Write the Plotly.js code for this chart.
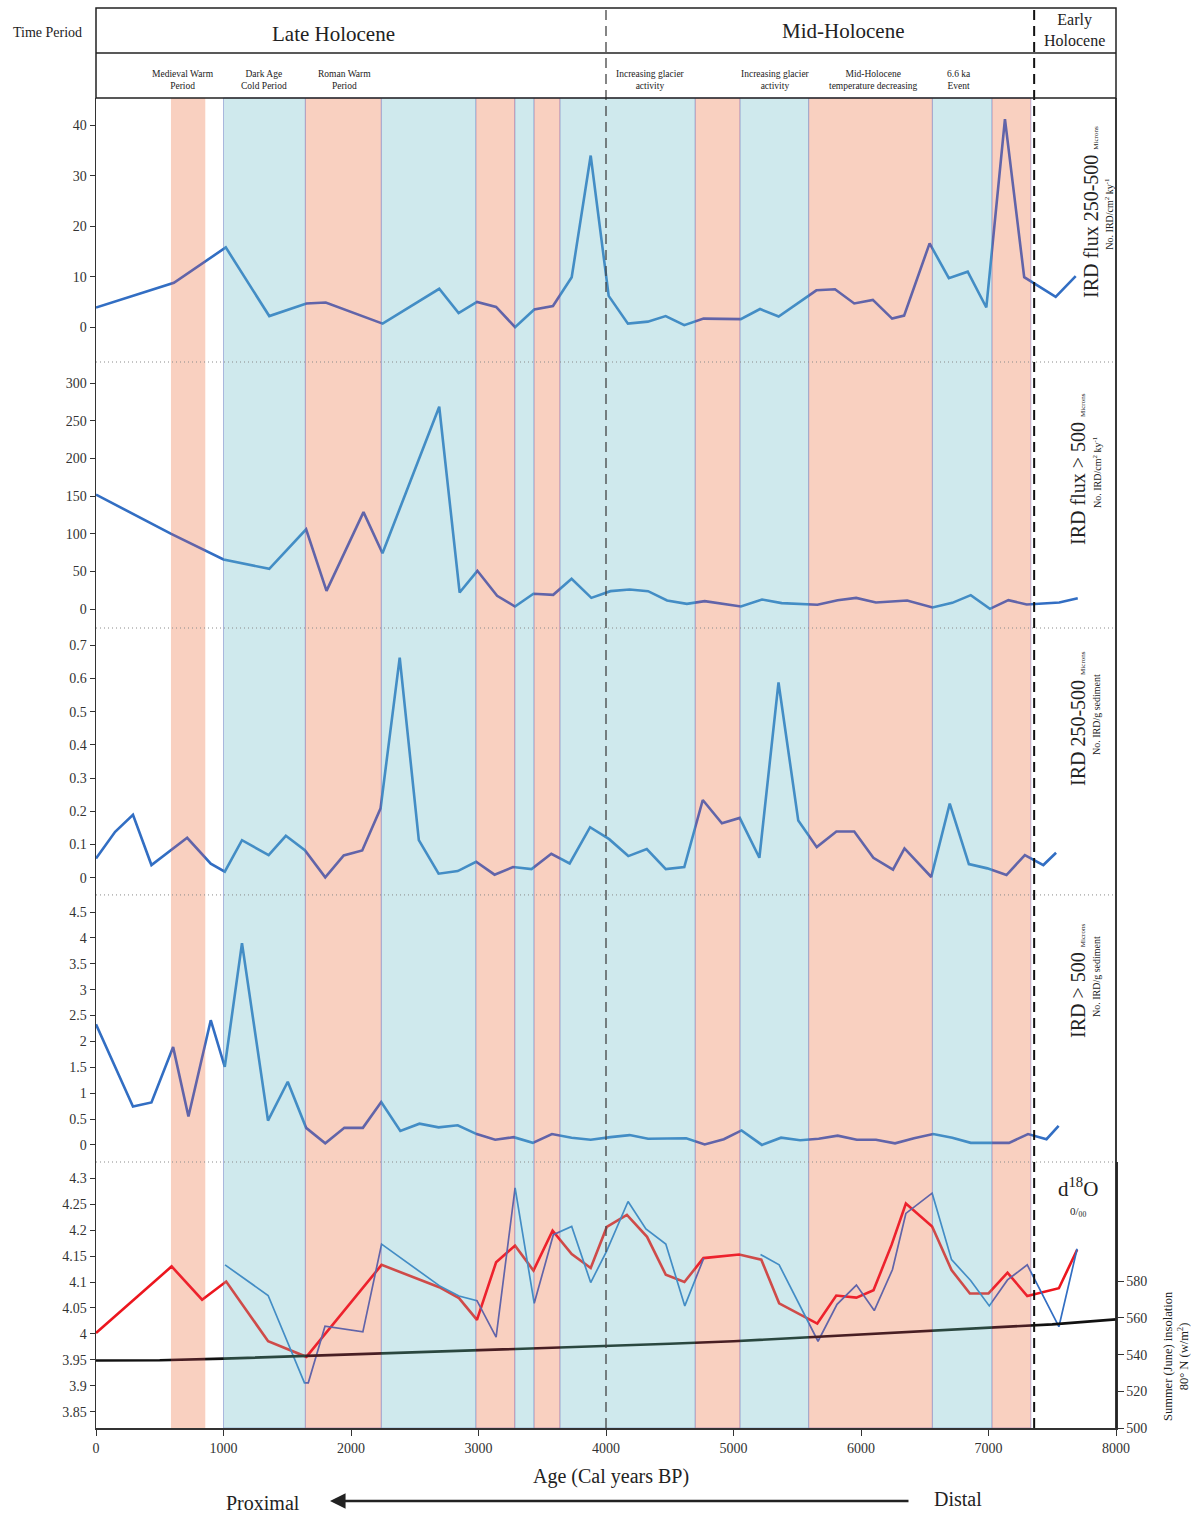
<!DOCTYPE html>
<html>
<head>
<meta charset="utf-8">
<script src="https://cdn.plot.ly/plotly-3.0.1.min.js"></script>
<style>
  html, body { margin: 0; padding: 0; background: #ffffff; }
  #chart { width: 1196px; height: 1515px; }
</style>
</head>
<body>
<div id="chart"></div>
<script>
// ---------------- data (age in cal years BP) ----------------

// IRD flux 250-500 microns (No. IRD/cm2 ky-1)
const ageFluxFine = [0, 611, 1018, 1359, 1650, 1802, 2248, 2692, 2844, 2988, 3138, 3287, 3437, 3584, 3731, 3880, 4021, 4172, 4328, 4468, 4614, 4765, 5057, 5208, 5354, 5650, 5796, 5947, 6093, 6244, 6338, 6538, 6689, 6837, 6983, 7129, 7280, 7527, 7684];
const fluxFine = [3.9, 8.8, 15.8, 2.2, 4.7, 4.9, 0.7, 7.6, 2.8, 5.0, 4.0, 0.0, 3.5, 4.2, 9.9, 34.0, 6.2, 0.7, 1.1, 2.2, 0.4, 1.7, 1.6, 3.6, 2.1, 7.3, 7.5, 4.7, 5.4, 1.7, 2.3, 16.6, 9.7, 11.0, 3.9, 41.2, 9.9, 6.0, 10.1];

// IRD flux > 500 microns (No. IRD/cm2 ky-1)
const ageFluxCoarse = [0, 590, 1000, 1359, 1648, 1808, 2098, 2247, 2692, 2852, 2991, 3146, 3286, 3431, 3586, 3730, 3885, 4035, 4185, 4330, 4479, 4634, 4774, 5058, 5223, 5378, 5658, 5817, 5962, 6117, 6362, 6561, 6716, 6861, 7011, 7156, 7300, 7555, 7700];
const fluxCoarse = [152, 100, 66, 53.5, 106, 24.3, 128.8, 74.3, 268.6, 22.1, 50.9, 17.7, 3.5, 20.4, 19.0, 40.3, 15.0, 23.9, 26.1, 23.9, 11.5, 7.1, 10.6, 3.5, 12.8, 8.0, 5.8, 11.9, 15.0, 8.8, 11.5, 2.2, 8.4, 18.6, 0.4, 11.9, 6.2, 8.8, 14.6];

// IRD 250-500 microns (No. IRD/g sediment)
const ageIrdFine = [0, 150, 290, 435, 715, 900, 1010, 1145, 1354, 1489, 1638, 1798, 1943, 2088, 2232, 2382, 2532, 2687, 2837, 2981, 3126, 3271, 3416, 3571, 3715, 3875, 4025, 4175, 4320, 4469, 4614, 4759, 4909, 5049, 5203, 5353, 5508, 5653, 5807, 5947, 6097, 6251, 6341, 6551, 6696, 6846, 6991, 7141, 7285, 7430, 7530];
const irdFine = [0.058, 0.138, 0.189, 0.038, 0.120, 0.042, 0.018, 0.113, 0.068, 0.126, 0.083, 0.001, 0.067, 0.082, 0.209, 0.663, 0.113, 0.012, 0.020, 0.048, 0.009, 0.032, 0.026, 0.072, 0.043, 0.152, 0.116, 0.065, 0.086, 0.026, 0.032, 0.234, 0.164, 0.180, 0.060, 0.588, 0.172, 0.092, 0.139, 0.139, 0.060, 0.024, 0.088, 0.002, 0.223, 0.041, 0.028, 0.008, 0.068, 0.038, 0.075];

// IRD > 500 microns (No. IRD/g sediment)
const ageIrdCoarse = [0, 290, 435, 605, 725, 900, 1010, 1145, 1349, 1504, 1648, 1798, 1948, 2093, 2237, 2387, 2537, 2687, 2837, 2986, 3131, 3276, 3426, 3576, 3730, 3880, 4035, 4185, 4330, 4479, 4629, 4774, 4924, 5063, 5223, 5373, 5523, 5668, 5817, 5967, 6117, 6267, 6416, 6566, 6716, 6861, 7006, 7161, 7310, 7455, 7550];
const irdCoarse = [2.33, 0.74, 0.82, 1.89, 0.55, 2.41, 1.51, 3.90, 0.47, 1.22, 0.33, 0.03, 0.33, 0.33, 0.83, 0.27, 0.41, 0.34, 0.38, 0.21, 0.10, 0.15, 0.04, 0.21, 0.14, 0.10, 0.15, 0.19, 0.12, 0.13, 0.13, 0.01, 0.11, 0.28, 0.00, 0.14, 0.09, 0.12, 0.18, 0.10, 0.10, 0.03, 0.13, 0.21, 0.14, 0.04, 0.04, 0.04, 0.21, 0.11, 0.37];

// d18O (per mil), two records
const ageD18oA = [0, 593, 832, 1021, 1350, 1650, 2240, 2692, 2847, 2988, 3138, 3287, 3431, 3581, 3731, 3880, 4006, 4164, 4322, 4469, 4615, 4764, 5045, 5218, 5358, 5657, 5806, 5964, 6098, 6239, 6352, 6558, 6710, 6854, 7000, 7149, 7304, 7552, 7695];
const d18oA = [4.002, 4.130, 4.066, 4.101, 3.986, 3.956, 4.133, 4.090, 4.069, 4.027, 4.138, 4.170, 4.122, 4.199, 4.154, 4.127, 4.206, 4.229, 4.187, 4.114, 4.100, 4.146, 4.153, 4.143, 4.059, 4.020, 4.074, 4.070, 4.084, 4.171, 4.251, 4.207, 4.123, 4.078, 4.078, 4.118, 4.073, 4.088, 4.162];

const ageD18oB = [1012, 1350, 1635, 1665, 1796, 2093, 2240, 2692, 2847, 2988, 3138, 3287, 3437, 3587, 3731, 3880, 4006, 4173, 4313, 4469, 4618, 4767, 4990, 5212, 5358, 5663, 5812, 5964, 6104, 6247, 6352, 6558, 6710, 6860, 7006, 7149, 7304, 7552, 7695];
const d18oB = [4.133, 4.074, 3.906, 3.906, 4.015, 4.004, 4.173, 4.093, 4.073, 4.064, 3.994, 4.281, 4.059, 4.191, 4.207, 4.099, 4.160, 4.255, 4.202, 4.173, 4.054, 4.146, null, 4.153, 4.133, 3.986, 4.057, 4.094, 4.045, 4.124, 4.232, 4.271, 4.143, 4.103, 4.054, 4.104, 4.133, 4.014, 4.164];

// Summer (June) insolation at 80 N (W/m2)
const ageInsolation = [0, 500, 1000, 1500, 2000, 2500, 3000, 3500, 4000, 4500, 5000, 5500, 6000, 6500, 7000, 7500, 8000];
const insolation = [536.8, 536.9, 537.8, 538.9, 540.1, 541.2, 542.3, 543.3, 544.6, 545.9, 547.3, 549.1, 551.0, 552.8, 554.6, 556.5, 559.2];

// Climate intervals (warm / cold) and period boundaries
const bandStart = [588, 1000, 1642, 2238, 2980, 3286, 3436, 3640, 4700, 5052, 5590, 6560, 7028];
const bandEnd   = [857, 1642, 2238, 2980, 3286, 3436, 3640, 4700, 5052, 5590, 6560, 7028, 7332];
const bandType  = ['warm', 'cold', 'warm', 'cold', 'warm', 'cold', 'warm', 'cold', 'warm', 'cold', 'warm', 'cold', 'warm'];
const periodBoundaries = [4000, 7358];

// Tick values
const ageTicks = [0, 1000, 2000, 3000, 4000, 5000, 6000, 7000, 8000];
const fluxFineTicks = [0, 10, 20, 30, 40];
const fluxCoarseTicks = [0, 50, 100, 150, 200, 250, 300];
const irdFineTicks = [0, 0.1, 0.2, 0.3, 0.4, 0.5, 0.6, 0.7];
const irdCoarseTicks = [0, 0.5, 1, 1.5, 2, 2.5, 3, 3.5, 4, 4.5];
const d18oTicks = [3.85, 3.9, 3.95, 4, 4.05, 4.1, 4.15, 4.2, 4.25, 4.3];
const insolationTicks = [500, 520, 540, 560, 580];

// Header labels
const periodNames = ['Late Holocene', 'Mid-Holocene', 'Early<br>Holocene'];
const eventNames = ['Medieval Warm<br>Period', 'Dark Age<br>Cold Period', 'Roman Warm<br>Period',
  'Increasing glacier<br>activity', 'Increasing glacier<br>activity',
  'Mid-Holocene<br>temperature decreasing', '6.6 ka<br>Event'];

// ---------------- styling ----------------
const FONT = 'Liberation Serif, Times New Roman, serif';
const INK = '#222222';
const BLUE = 'rgb(50,110,195)';
const RED = 'rgb(236,22,30)';
// Bands: an opaque base under the curves plus a tinted veil over them,
// so curves crossing a band take on its hue.
const WARM_BASE = 'rgb(253,254,226)';
const WARM_VEIL = 'rgba(240,70,90,0.25)';
const COLD_BASE = 'rgb(237,232,249)';
const COLD_VEIL = 'rgba(120,235,205,0.25)';

// ---------------- traces ----------------
const lineTrace = (x, y, yaxis, color, width) => ({
  type: 'scatter', mode: 'lines', x: x, y: y, xaxis: 'x', yaxis: yaxis,
  line: { color: color, width: width, shape: 'linear' },
  connectgaps: false, hoverinfo: 'skip', showlegend: false
});

const traces = [
  lineTrace(ageFluxFine, fluxFine, 'y5', BLUE, 2.6),
  lineTrace(ageFluxCoarse, fluxCoarse, 'y4', BLUE, 2.6),
  lineTrace(ageIrdFine, irdFine, 'y3', BLUE, 2.6),
  lineTrace(ageIrdCoarse, irdCoarse, 'y2', BLUE, 2.6),
  lineTrace(ageD18oA, d18oA, 'y', RED, 2.6),
  lineTrace(ageD18oB, d18oB, 'y', BLUE, 1.7),
  lineTrace(ageInsolation, insolation, 'y6', '#111111', 2.6)
];

// ---------------- axes ----------------
const tickFont = { family: FONT, size: 14, color: '#333333' };
const yAxis = (domain, range, vals) => ({
  domain: domain, range: range, anchor: 'x',
  tickmode: 'array', tickvals: vals, ticktext: vals.map(v => String(v)),
  ticks: 'outside', ticklen: 5, tickwidth: 1, tickcolor: '#333',
  showline: true, linecolor: '#333', linewidth: 1.5,
  showgrid: false, zeroline: false, tickfont: tickFont, fixedrange: true
});

// ---------------- shapes ----------------
const shapes = [];
bandStart.forEach((s, i) => {
  shapes.push({
    type: 'rect', xref: 'x', yref: 'paper', x0: s, x1: bandEnd[i], y0: 0, y1: 1,
    layer: 'below', fillcolor: bandType[i] === 'warm' ? WARM_BASE : COLD_BASE,
    line: { width: i === 0 ? 0 : 1, color: 'rgba(120,120,200,0.55)' }
  });
});
bandStart.forEach((s, i) => {
  shapes.push({
    type: 'rect', xref: 'x', yref: 'paper', x0: s, x1: bandEnd[i], y0: 0, y1: 1,
    layer: 'above', fillcolor: bandType[i] === 'warm' ? WARM_VEIL : COLD_VEIL,
    line: { width: 0 }
  });
});
// dotted separators between panels
[0.2, 0.4008, 0.6015, 0.8015].forEach(y => {
  shapes.push({ type: 'line', xref: 'paper', yref: 'paper', x0: 0, x1: 1, y0: y, y1: y,
    layer: 'above', line: { color: '#8a8a8a', width: 1, dash: '1px,3px' } });
});
// period boundaries (dashed)
periodBoundaries.forEach((b, i) => {
  shapes.push({ type: 'line', xref: 'x', yref: 'paper', x0: b, x1: b, y0: 0, y1: 1.0677,
    layer: 'above', line: { color: i === 0 ? '#444444' : '#111111', width: i === 0 ? 1.3 : 2, dash: '10px,6px' } });
});
// header box
shapes.push({ type: 'rect', xref: 'paper', yref: 'paper', x0: 0, x1: 1, y0: 1, y1: 1.0677,
  layer: 'above', line: { color: INK, width: 1.5 }, fillcolor: 'rgba(0,0,0,0)' });
shapes.push({ type: 'line', xref: 'paper', yref: 'paper', x0: 0, x1: 1, y0: 1.0338, y1: 1.0338,
  layer: 'above', line: { color: INK, width: 1.5 } });
// right frame line
shapes.push({ type: 'line', xref: 'paper', yref: 'paper', x0: 1, x1: 1, y0: 0, y1: 1,
  layer: 'above', line: { color: INK, width: 1.8 } });

// ---------------- annotations ----------------
const txt = (text, x, y, size, extra) => Object.assign({
  text: text, x: x, y: y, xref: 'paper', yref: 'paper', showarrow: false,
  xanchor: 'center', yanchor: 'middle', font: { family: FONT, size: size, color: INK }
}, extra || {});

const annotations = [
  txt('Time Period', -0.0471, 1.0489, 14),
  txt(periodNames[0], 0.2324, 1.0481, 21),
  txt(periodNames[1], 0.7324, 1.0504, 21),
  txt(periodNames[2], 0.9598, 1.0511, 16),
];
const eventX = [0.0853, 0.1647, 0.2441, 0.5441, 0.6657, 0.7627, 0.8461];
eventNames.forEach((n, i) => annotations.push(txt(n, eventX[i], 1.0132, 9.5)));

const microns = ' <span style="font-size:7px">Microns</span>';
annotations.push(
  txt('IRD flux 250-500' + microns, 0.9755, 0.9143, 20, { textangle: -90 }),
  txt('No. IRD/cm<sup>2</sup> ky<sup>-1</sup>', 0.9931, 0.9130, 10, { textangle: -90 }),
  txt('IRD flux > 500' + microns, 0.9627, 0.7211, 20, { textangle: -90 }),
  txt('No. IRD/cm<sup>2</sup> ky<sup>-1</sup>', 0.9814, 0.7188, 10, { textangle: -90 }),
  txt('IRD 250-500' + microns, 0.9627, 0.5338, 20, { textangle: -90 }),
  txt('No. IRD/g sediment', 0.9814, 0.5361, 10, { textangle: -90 }),
  txt('IRD > 500' + microns, 0.9627, 0.3361, 20, { textangle: -90 }),
  txt('No. IRD/g sediment', 0.9814, 0.3391, 10, { textangle: -90 }),
  txt('d<sup>18</sup>O', 0.9627, 0.1805, 21),
  txt('0/<sub>00</sub>', 0.9627, 0.1624, 11),
  txt('Summer (June) insolation<br>80° N (w/m<sup>2</sup>)', 1.0588, 0.0541, 12.5, { textangle: -90 }),
  txt('Age (Cal years BP)', 0.5049, -0.0361, 20),
  txt('Proximal', 0.1637, -0.0564, 20),
  txt('Distal', 0.8451, -0.0534, 20),
  { text: '', x: 0.2294, y: -0.0549, xref: 'paper', yref: 'paper', showarrow: true,
    ax: 580, ay: 0, arrowhead: 2, arrowsize: 1.3, arrowwidth: 2.4, arrowcolor: INK, standoff: 0 }
);

// ---------------- layout ----------------
const layout = {
  width: 1196, height: 1515,
  margin: { l: 96, r: 80, t: 98, b: 87, pad: 0 },
  paper_bgcolor: '#ffffff', plot_bgcolor: 'rgba(0,0,0,0)',
  showlegend: false,
  font: { family: FONT, color: INK },
  xaxis: {
    domain: [0, 1], range: [0, 8000], anchor: 'y',
    tickmode: 'array', tickvals: ageTicks, ticktext: ageTicks.map(String),
    ticks: 'outside', ticklen: 6, tickwidth: 1, tickcolor: '#333',
    showline: true, linecolor: '#333', linewidth: 1.8,
    showgrid: false, zeroline: false, tickfont: tickFont, fixedrange: true
  },
  yaxis: yAxis([0, 0.2], [3.819, 4.331], d18oTicks),
  yaxis2: yAxis([0.2, 0.4008], [-0.33, 4.83], irdCoarseTicks),
  yaxis3: yAxis([0.4008, 0.6015], [-0.052, 0.752], irdFineTicks),
  yaxis4: yAxis([0.6015, 0.8015], [-25, 328], fluxCoarseTicks),
  yaxis5: yAxis([0.8015, 1], [-6.9, 45.4], fluxFineTicks),
  yaxis6: Object.assign(yAxis([0, 0.2], [500, 645], insolationTicks),
    { overlaying: 'y', side: 'right', ticklen: 6 }),
  shapes: shapes,
  annotations: annotations
};

Plotly.newPlot('chart', traces, layout, { staticPlot: true, displayModeBar: false });
</script>
</body>
</html>
